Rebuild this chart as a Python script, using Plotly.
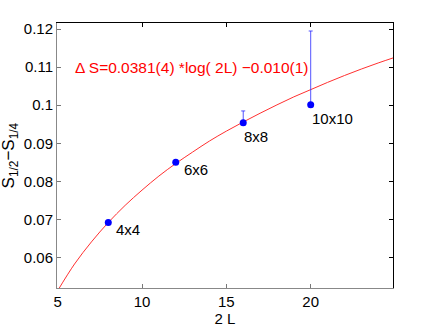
import plotly.graph_objects as go

# data points
sizes = ["4x4", "6x6", "8x8", "10x10"]
two_L = [8, 12, 16, 20]
dS = [0.0692, 0.0850, 0.0954, 0.1001]
err_up = [0.0, 0.0, 0.0031, 0.0194]
err_down = [0.0, 0.0, 0.0, 0.0]

# fit curve
fit_x = [5, 6, 7, 8, 9, 10, 11, 12, 13, 14, 15, 16, 17, 18, 19, 20, 21, 22, 23, 24, 25]
fit_y = [0.0513, 0.0583, 0.0641, 0.0692, 0.0737, 0.0777, 0.0814, 0.0847, 0.0877,
         0.0906, 0.0932, 0.0956, 0.0979, 0.1001, 0.1022, 0.1041, 0.1060, 0.1078,
         0.1095, 0.1111, 0.1126]

fit_label = "Δ S=0.0381(4) *log( 2L) −0.010(1)"
x_ticks = [5, 10, 15, 20]
y_ticks = [0.06, 0.07, 0.08, 0.09, 0.1, 0.11, 0.12]
y_tick_text = ["0.06", "0.07", "0.08", "0.09", "0.1", "0.11", "0.12"]

FONT = "Liberation Sans, Arial, Helvetica, sans-serif"
XR = [4.96, 24.88]
YR = [0.0520, 0.1216]

fig = go.Figure()
fig.add_trace(go.Scatter(x=fit_x, y=fit_y, mode="lines", line=dict(color="#ff3030", width=1),
                         line_shape="spline", showlegend=False, hoverinfo="skip"))
fig.add_trace(go.Scatter(
    x=two_L, y=dS, mode="markers",
    marker=dict(color="#0000ff", size=7),
    error_y=dict(type="data", symmetric=False, array=err_up, arrayminus=err_down,
                 color="rgba(40,40,255,0.8)", thickness=1, width=2),
    showlegend=False))

# invisible trace for mirrored black top/right axes
fig.add_trace(go.Scatter(x=[None], y=[None], xaxis="x2", yaxis="y2", showlegend=False))

annotations = []
for lab, xv, yv in zip(sizes, two_L, dS):
    if xv < 15:
        xs, ys = 6, -7
    else:
        xs, ys = -1, -14
    annotations.append(dict(x=xv, y=yv, xref="x", yref="y", text=lab, showarrow=False,
                            xanchor="left", yanchor="middle", xshift=xs, yshift=ys,
                            font=dict(family=FONT, size=15, color="black")))
annotations.append(dict(x=5.9, y=0.11, xref="x", yref="y", text=fit_label, showarrow=False,
                        xanchor="left", yanchor="middle",
                        font=dict(family=FONT, size=15.5, color="#ff0000")))
annotations.append(dict(x=-0.14, y=0.5, xref="paper", yref="paper",
                        text="S<sub>1/2</sub>−S<sub>1/4</sub>", textangle=-90, showarrow=False,
                        xanchor="center", yanchor="middle",
                        font=dict(family=FONT, size=17, color="black")))

fig.update_layout(
    width=436, height=328,
    margin=dict(l=57, r=43, t=23, b=40, autoexpand=False),
    paper_bgcolor="white", plot_bgcolor="white",
    font=dict(family=FONT, size=15, color="black"),
    xaxis=dict(range=XR, tickvals=x_ticks, ticks="inside", ticklen=4, tickcolor="#777",
               showline=True, linecolor="#888", linewidth=1, showgrid=False, zeroline=False,
               automargin=False,
               title=dict(text="2 L", font=dict(size=15), standoff=0),
               tickfont=dict(size=15)),
    yaxis=dict(range=YR, tickvals=y_ticks, ticktext=y_tick_text, ticks="inside", ticklen=4,
               tickcolor="#777", showline=True, linecolor="#888", linewidth=1,
               automargin=False,
               showgrid=False, zeroline=False, tickfont=dict(size=15)),
    xaxis2=dict(range=XR, tickvals=x_ticks, ticks="inside", ticklen=4, tickcolor="black",
                overlaying="x", side="top", showticklabels=False, showline=True,
                automargin=False,
                linecolor="black", linewidth=1, showgrid=False, zeroline=False, anchor="y2"),
    yaxis2=dict(range=YR, tickvals=y_ticks, ticks="inside", ticklen=4, tickcolor="black",
                overlaying="y", side="right", showticklabels=False, showline=True,
                automargin=False,
                linecolor="black", linewidth=1, showgrid=False, zeroline=False, anchor="x2"),
    annotations=annotations,
)

fig.write_html("out.html", config={"displayModeBar": False},
               post_script="document.body.style.margin='0';")
